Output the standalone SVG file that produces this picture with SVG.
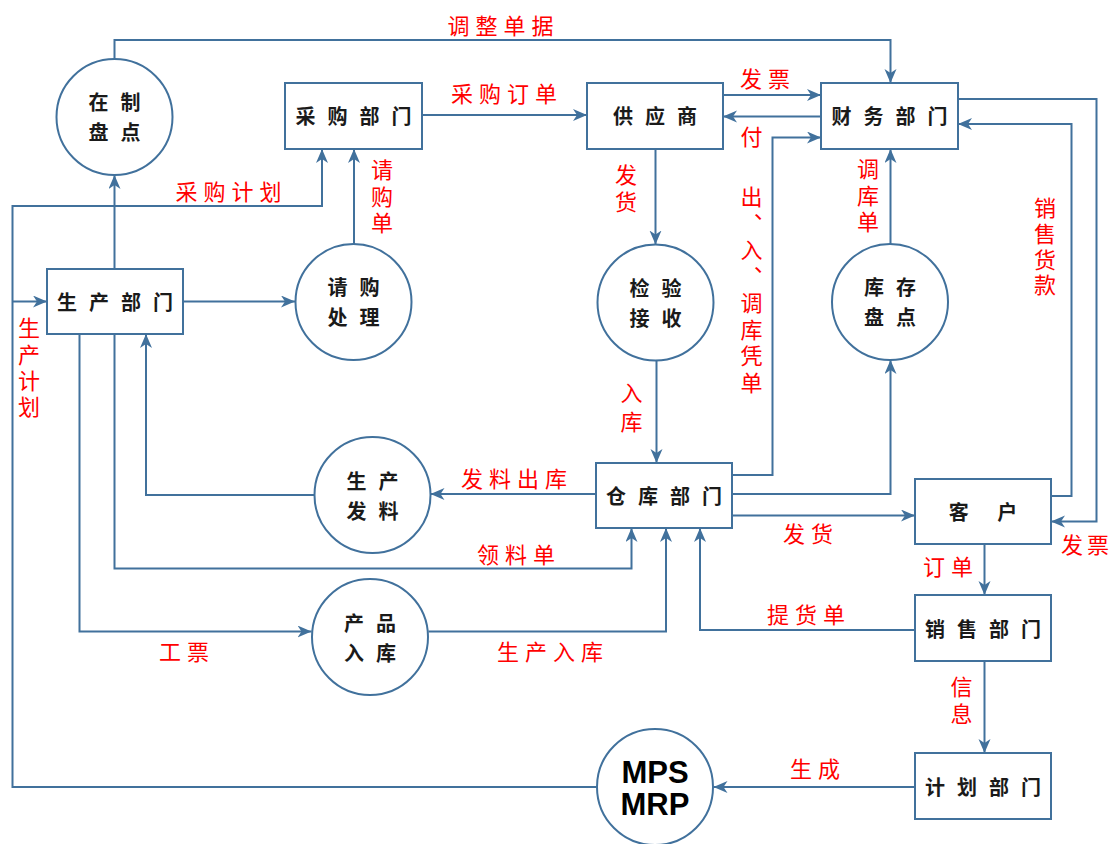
<svg xmlns="http://www.w3.org/2000/svg" width="1114" height="844" viewBox="0 0 1114 844">
<style>
.box{fill:#fff;stroke:#41719c;stroke-width:2}
.t{font-family:"Noto Sans CJK SC","Noto Sans",sans-serif;font-size:20px;font-weight:bold;fill:#1a1a1a;text-anchor:middle;dominant-baseline:central;letter-spacing:12px}
.mps{font-family:"Liberation Sans",Arial,sans-serif;font-size:31px;font-weight:bold;fill:#000;text-anchor:middle}
.c{fill:none;stroke:#41719c;stroke-width:2}
.l{font-family:"Noto Sans CJK SC","Noto Sans",sans-serif;font-size:22px;fill:#f00;text-anchor:middle;dominant-baseline:central;letter-spacing:6px}
.v{font-family:"Noto Sans CJK SC","Noto Sans",sans-serif;font-size:22px;fill:#f00;writing-mode:vertical-rl;text-anchor:start}
</style>
<defs>
<marker id="ah" markerUnits="userSpaceOnUse" markerWidth="16" markerHeight="14" refX="14" refY="6" orient="auto">
<path d="M0,0 L14,6 L0,12 L4,6 z" fill="#41719c"/>
</marker>
</defs>
<rect width="1114" height="844" fill="#fff"/>
<g id="connectors">
<path class="c" d="M114.5,59 V40 H890.5 V83" marker-end="url(#ah)"/>
<path class="c" d="M114.5,269 V175" marker-end="url(#ah)"/>
<path class="c" d="M596,787 H12.5 V206 H322 V149" marker-end="url(#ah)"/>
<path class="c" d="M12.5,301.5 H47" marker-end="url(#ah)"/>
<path class="c" d="M354,244 V149" marker-end="url(#ah)"/>
<path class="c" d="M183,301.5 H295" marker-end="url(#ah)"/>
<path class="c" d="M422,115 H587" marker-end="url(#ah)"/>
<path class="c" d="M723,95 H821" marker-end="url(#ah)"/>
<path class="c" d="M821,116.5 H723" marker-end="url(#ah)"/>
<path class="c" d="M732,475 H772.5 V137.5 H821" marker-end="url(#ah)"/>
<path class="c" d="M655.5,149 V244.5" marker-end="url(#ah)"/>
<path class="c" d="M656.5,360.5 V463" marker-end="url(#ah)"/>
<path class="c" d="M890.5,244 V149" marker-end="url(#ah)"/>
<path class="c" d="M732,494 H890.5 V360" marker-end="url(#ah)"/>
<path class="c" d="M958,99 H1096.5 V521.5 H1051" marker-end="url(#ah)"/>
<path class="c" d="M1051,496 H1071.5 V124 H958" marker-end="url(#ah)"/>
<path class="c" d="M732,515.5 H915" marker-end="url(#ah)"/>
<path class="c" d="M596,494 H430.5" marker-end="url(#ah)"/>
<path class="c" d="M314.5,495 H146 V334" marker-end="url(#ah)"/>
<path class="c" d="M114.5,334 V568.5 H631.5 V528" marker-end="url(#ah)"/>
<path class="c" d="M79.5,334 V631.5 H311.5" marker-end="url(#ah)"/>
<path class="c" d="M428.5,631.5 H666 V528" marker-end="url(#ah)"/>
<path class="c" d="M915,630 H700 V528" marker-end="url(#ah)"/>
<path class="c" d="M984.5,544 V595" marker-end="url(#ah)"/>
<path class="c" d="M984.5,661 V753" marker-end="url(#ah)"/>
<path class="c" d="M915,787 H713.5" marker-end="url(#ah)"/>
</g>
<g id="labels">
<text class="l" x="503.5" y="24">调整单据</text>
<text class="l" x="231.5" y="190">采购计划</text>
<text class="l" x="507" y="92">采购订单</text>
<text class="l" x="768" y="77">发票</text>
<text class="l" x="1113" y="543" style="text-anchor:end;letter-spacing:4px">发票</text>
<text class="l" x="811" y="531.5">发货</text>
<text class="l" x="517" y="476.5">发料出库</text>
<text class="l" x="519" y="553">领料单</text>
<text class="l" x="187" y="650">工票</text>
<text class="l" x="553" y="650">生产入库</text>
<text class="l" x="809" y="613">提货单</text>
<text class="l" x="951" y="565">订单</text>
<text class="l" x="818" y="767">生成</text>
<text class="v" x="29" y="317" style="letter-spacing:4.3px">生产计划</text>
<text class="v" x="382" y="159" style="letter-spacing:4.5px">请购单</text>
<text class="v" x="626" y="164" style="letter-spacing:5px">发货</text>
<text class="v" x="631.5" y="382" style="letter-spacing:6.5px">入库</text>
<text class="v" x="868" y="158" style="letter-spacing:4.5px">调库单</text>
<text class="v" x="1045" y="197" style="letter-spacing:3.7px">销售货款</text>
<text class="v" x="961.5" y="676" style="letter-spacing:5px">信息</text>
<text class="l" x="751.5" y="135" style="letter-spacing:0">付</text>
<text class="v" x="751.5" y="186" style="letter-spacing:4.5px;font-feature-settings:'vert' 0">出、入、调库凭单</text>
</g>
<g id="n-zaizhi"><circle class="box" cx="114.5" cy="117" r="58"/><text class="t" x="120.5" y="101">在制</text><text class="t" x="120.5" y="131">盘点</text></g>
<g id="n-caigou"><rect class="box" x="285" y="83" width="137" height="66"/><text class="t" x="359.5" y="115">采购部门</text></g>
<g id="n-gongying"><rect class="box" x="587" y="83" width="136" height="66"/><text class="t" x="661" y="115">供应商</text></g>
<g id="n-caiwu"><rect class="box" x="821" y="83" width="137" height="66"/><text class="t" x="895.5" y="115">财务部门</text></g>
<g id="n-shengchan"><rect class="box" x="47" y="269" width="136" height="65"/><text class="t" x="121" y="301.5">生产部门</text></g>
<g id="n-qinggou"><circle class="box" cx="353.5" cy="302" r="58"/><text class="t" x="359.5" y="286">请购</text><text class="t" x="359.5" y="316">处理</text></g>
<g id="n-jianyan"><circle class="box" cx="655.5" cy="302.5" r="58"/><text class="t" x="661.5" y="287">检验</text><text class="t" x="661.5" y="317">接收</text></g>
<g id="n-kucun"><circle class="box" cx="890" cy="302" r="58"/><text class="t" x="896" y="286">库存</text><text class="t" x="896" y="316">盘点</text></g>
<g id="n-faliao"><circle class="box" cx="372.5" cy="495" r="58"/><text class="t" x="378.5" y="480">生产</text><text class="t" x="378.5" y="510">发料</text></g>
<g id="n-cangku"><rect class="box" x="596" y="463" width="136" height="65"/><text class="t" x="670" y="495.5">仓库部门</text></g>
<g id="n-kehu"><rect class="box" x="915" y="479" width="136" height="65"/><text class="t" x="989" y="511.5">客 户</text></g>
<g id="n-chanpin"><circle class="box" cx="370" cy="637" r="58"/><text class="t" x="376" y="622">产品</text><text class="t" x="376" y="652">入库</text></g>
<g id="n-xiaoshou"><rect class="box" x="915" y="595" width="136" height="66"/><text class="t" x="989" y="628">销售部门</text></g>
<g id="n-jihua"><rect class="box" x="915" y="753" width="136" height="66"/><text class="t" x="989" y="786">计划部门</text></g>
<g id="n-mps"><circle class="box" cx="655" cy="787" r="58"/><text class="mps" x="655" y="782.5">MPS</text><text class="mps" x="655" y="814.5">MRP</text></g>
</svg>
